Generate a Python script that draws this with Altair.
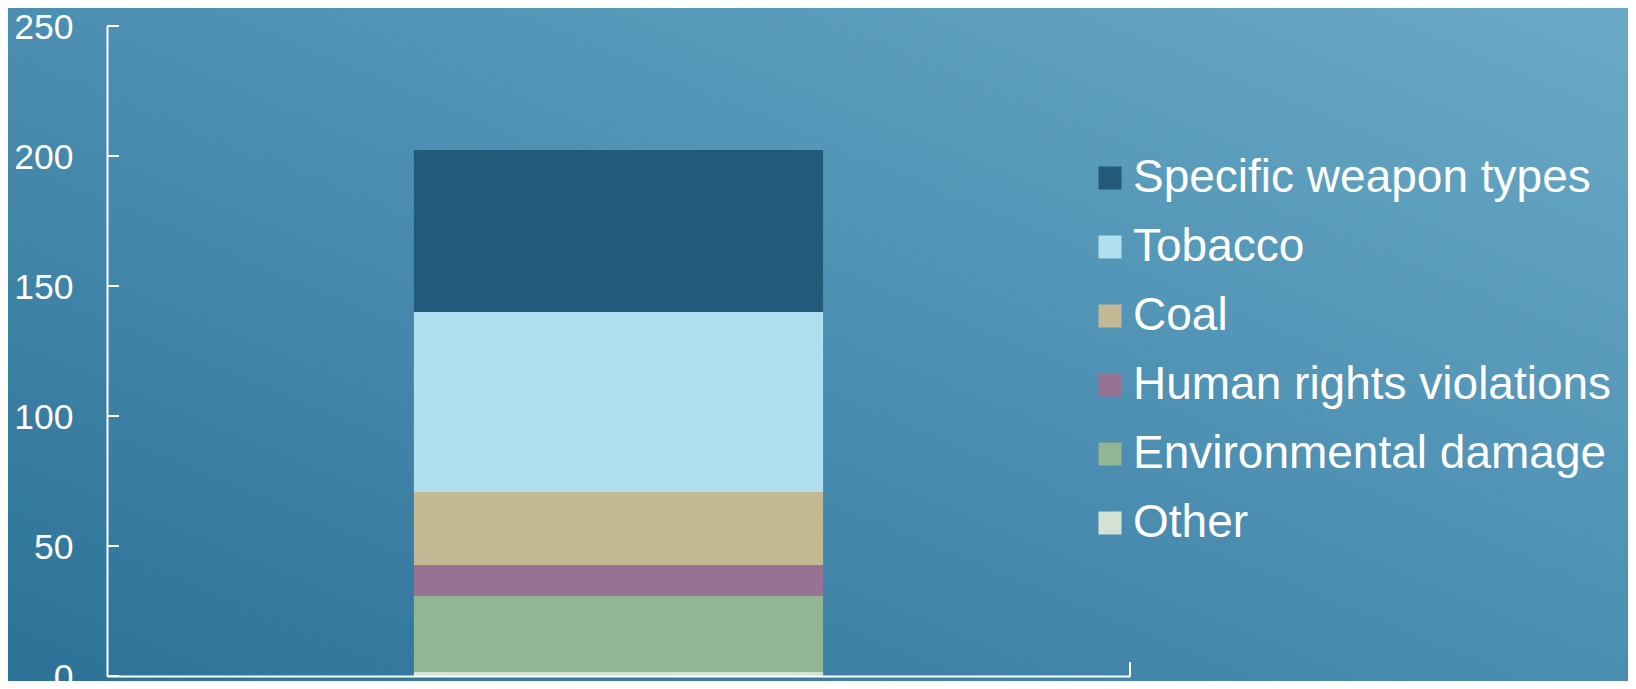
import altair as alt
import pandas as pd

categories = ["Specific weapon types", "Tobacco", "Coal", "Human rights violations",
              "Environmental damage", "Other"]
values = [62.3, 69.2, 28.1, 11.8, 29.4, 1.5]
colors = ["#225a7a", "#b0dff0", "#c4b995", "#977293", "#92b593", "#d4e2d6"]
stack_order = [5, 4, 3, 2, 1, 0]
y_ticks = [0, 50, 100, 150, 200, 250]

W, H = 1023, 650
PAD_L, PAD_T, PAD_R, PAD_B = 99, 18, 498, 5
FONT = "Liberation Sans"

df = pd.DataFrame({"group": ["All"] * len(categories), "category": categories,
                   "value": values, "order": stack_order})
one = pd.DataFrame({"a": [0]})

bg = alt.Chart(one).mark_rect(
    fill=alt.Gradient(
        gradient="linear",
        stops=[alt.GradientStop(color="#2c7297", offset=0),
               alt.GradientStop(color="#4b8eb1", offset=0.5),
               alt.GradientStop(color="#6aaac6", offset=1)],
        x1=0, y1=1, x2=1, y2=0)
).encode(x=alt.value(-PAD_L), x2=alt.value(W + PAD_R),
         y=alt.value(-PAD_T), y2=alt.value(H + PAD_B))

bars = alt.Chart(df).mark_bar().encode(
    x=alt.X("group:N", title=None,
            scale=alt.Scale(paddingInner=0.6, paddingOuter=0.3),
            axis=alt.Axis(labels=False, ticks=False, domainColor="white", domainWidth=2,
                          zindex=2)),
    y=alt.Y("value:Q", stack="zero", title=None,
            scale=alt.Scale(domain=[0, 250], nice=False),
            axis=alt.Axis(values=y_ticks, ticks=False, grid=False, labelPadding=34,
                          labelFontSize=35.5, labelColor="white", labelFont=FONT,
                          labelOffset=1,
                          domainColor="white", domainWidth=2, zindex=2)),
    color=alt.Color("category:N", scale=alt.Scale(domain=categories, range=colors),
                    legend=alt.Legend(title=None, orient="none", legendX=980, legendY=129,
                                      labelFontSize=46, labelColor="white", labelFont=FONT,
                                      labelLimit=800,
                                      symbolType="square", symbolSize=529,
                                      symbolStrokeWidth=0, rowPadding=23, labelOffset=0,
                                      symbolOpacity=1)),
    order=alt.Order("order:Q"),
)

yticks = alt.Chart(pd.DataFrame({"value": y_ticks})).mark_rule(color="white", strokeWidth=2).encode(
    y=alt.Y("value:Q"), x=alt.value(0), x2=alt.value(12))

xtick = alt.Chart(one).mark_rule(color="white", strokeWidth=2).encode(
    x=alt.value(W), y=alt.value(H - 14), y2=alt.value(H))

chart = alt.layer(bg, bars, yticks, xtick).properties(
    width=W, height=H,
    padding={"left": PAD_L, "top": PAD_T, "right": PAD_R, "bottom": PAD_B},
    autosize=alt.AutoSizeParams(type="none"),
    background="#4a8db0",
).configure_view(strokeWidth=0)

chart.save("out.html", embed_options={"renderer": "svg", "actions": False})
